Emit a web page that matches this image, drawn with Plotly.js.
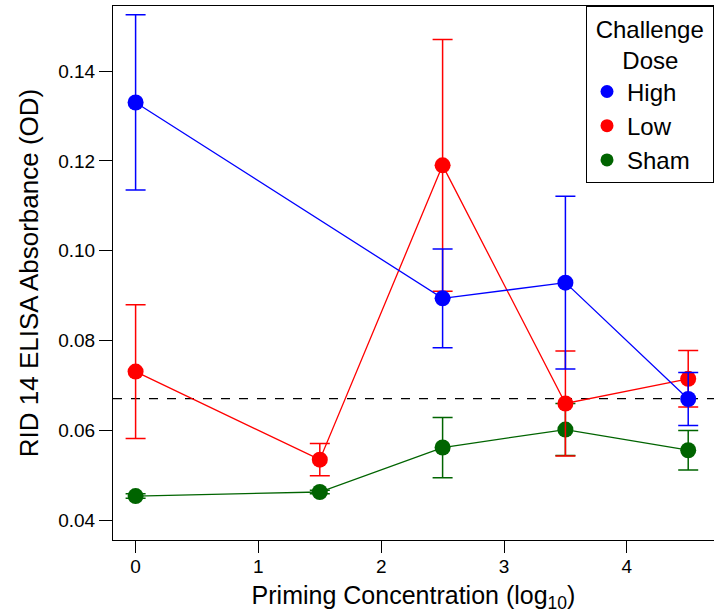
<!DOCTYPE html>
<html>
<head>
<meta charset="utf-8">
<script src="https://cdn.plot.ly/plotly-3.0.1.min.js"></script>
<style>body{margin:0;padding:0;background:#fff}#chart{width:714px;height:613px}</style>
</head>
<body>
<div id="chart"></div>
<script>
// Data
const priming = [0, 1.5, 2.5, 3.5, 4.5];
const highX = [0, 2.5, 3.5, 4.5];
const highY = [0.1330, 0.0894, 0.0929, 0.0670];
const highErr = [0.0195, 0.0110, 0.0192, 0.0059];
const lowX = [0, 1.5, 2.5, 3.5, 4.5];
const lowY = [0.0731, 0.0535, 0.1190, 0.0660, 0.0715];
const lowErr = [0.0149, 0.0036, 0.0280, 0.0117, 0.0063];
const shamX = [0, 1.5, 2.5, 3.5, 4.5];
const shamY = [0.0454, 0.0463, 0.0562, 0.0602, 0.0556];
const shamErr = [0.0005, 0.0004, 0.0067, 0.0058, 0.0044];
const threshold = 0.0671;
const seriesNames = ['High', 'Low', 'Sham'];
const colors = ['#0000ff', '#ff0000', '#006400'];

function series(x, y, err, color) {
  return {
    x: x, y: y, type: 'scatter', mode: 'lines+markers', showlegend: false,
    line: {color: color, width: 1.3},
    marker: {color: color, size: 16},
    error_y: {type: 'data', array: err, visible: true, color: color, thickness: 1.5, width: 10}
  };
}
function legendItem(name, color) {
  return {x: [null], y: [null], type: 'scatter', mode: 'markers', name: name,
    marker: {color: color, size: 13}};
}
const data = [
  series(shamX, shamY, shamErr, colors[2]),
  series(lowX, lowY, lowErr, colors[1]),
  series(highX, highY, highErr, colors[0]),
  legendItem(seriesNames[0], colors[0]),
  legendItem(seriesNames[1], colors[1]),
  legendItem(seriesNames[2], colors[2])
];
const font = 'Liberation Sans, Arial, Helvetica, sans-serif';
const layout = {
  width: 714, height: 613,
  margin: {l: 113, r: 0, t: 6, b: 73},
  paper_bgcolor: '#fff', plot_bgcolor: '#fff',
  font: {family: font, color: '#000', size: 19},
  showlegend: true,
  legend: {
    x: 1, xanchor: 'right', y: 1, yanchor: 'top',
    bordercolor: '#000', borderwidth: 1, bgcolor: '#fff',
    font: {size: 24, family: font},
    title: {text: '&nbsp;Challenge&nbsp;<br>&nbsp;&nbsp;&nbsp;&nbsp;&nbsp;Dose', side: 'top', font: {size: 24, family: font}},
    traceorder: 'normal', tracegroupgap: 0
  },
  xaxis: {
    range: [-0.184, 4.710], tickvals: [0, 1, 2, 3, 4],
    showgrid: false, zeroline: false, showline: true, linecolor: '#000', linewidth: 1, mirror: true,
    ticks: 'outside', ticklen: 12, tickcolor: '#000', tickfont: {size: 19}, ticklabelstandoff: -3,
    title: {text: 'Priming Concentration (log<sub>10</sub>)', font: {size: 25}, standoff: 10}
  },
  yaxis: {
    range: [0.03562, 0.15447], tickvals: [0.04, 0.06, 0.08, 0.10, 0.12, 0.14],
    ticktext: ['0.04', '0.06', '0.08', '0.10', '0.12', '0.14'],
    showgrid: false, zeroline: false, showline: true, linecolor: '#000', linewidth: 1,
    ticks: 'outside', ticklen: 13, tickcolor: '#000', tickfont: {size: 19},
    title: {text: 'RID 14 ELISA Absorbance (OD)', font: {size: 26}, standoff: 12}
  },
  shapes: [{type: 'line', xref: 'paper', x0: 0, x1: 1, yref: 'y', y0: threshold, y1: threshold,
    line: {color: '#000', width: 1.3, dash: 'dash'}, layer: 'below'}]
};
Plotly.newPlot('chart', data, layout, {displayModeBar: false, staticPlot: true});
</script>
</body>
</html>
